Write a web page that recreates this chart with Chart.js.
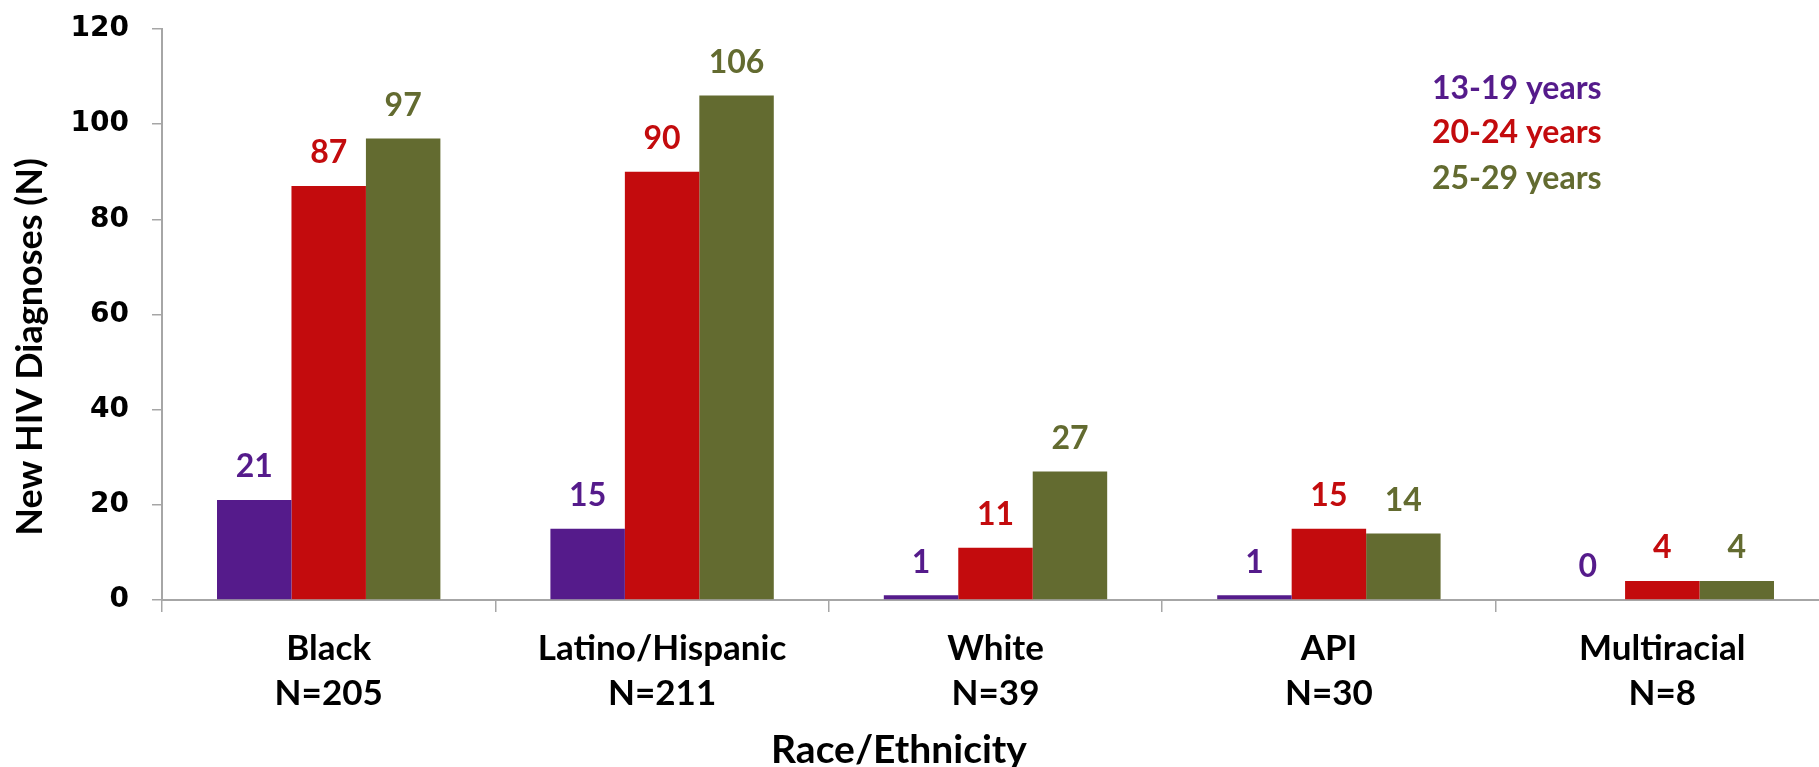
<!DOCTYPE html>
<html>
<head>
<meta charset="utf-8">
<script src="https://cdn.jsdelivr.net/npm/chart.js@4.4.1/dist/chart.umd.min.js"></script>
<style>
  html, body { margin: 0; padding: 0; background: #ffffff; overflow: hidden; }
  #wrap { width: 1830px; height: 767px; }
</style>
</head>
<body>
<div id="wrap"><canvas id="c" width="1830" height="767"></canvas></div>
<script>
const categories = [["Black", "N=205"], ["Latino/Hispanic", "N=211"], ["White", "N=39"], ["API", "N=30"], ["Multiracial", "N=8"]];
const seriesNames = ["13-19 years", "20-24 years", "25-29 years"];
const ages13to19 = [21, 15, 1, 1, 0];
const ages20to24 = [87, 90, 11, 15, 4];
const ages25to29 = [97, 106, 27, 14, 4];
const yTicks = [0, 20, 40, 60, 80, 100, 120];
const xTitle = "Race/Ethnicity";
const yTitle = "New HIV Diagnoses (N)";
const colors = ["#551B8B", "#C30B0D", "#636B30"];

const LABEL_FONT = "Lato";
const W = "bold";
const axisGray = "#A6A6A6";

const valueLabels = {
  id: "valueLabels",
  afterDatasetsDraw(chart) {
    const ctx = chart.ctx;
    ctx.save();
    ctx.font = W + " 32px " + LABEL_FONT;
    ctx.textAlign = "center";
    ctx.textBaseline = "middle";
    chart.data.datasets.forEach((ds, di) => {
      const meta = chart.getDatasetMeta(di);
      ctx.fillStyle = ds.backgroundColor;
      meta.data.forEach((bar, i) => {
        ctx.fillText(String(ds.data[i]), bar.x, bar.y - 33);
      });
    });
    ctx.restore();
  }
};

const textLegend = {
  id: "textLegend",
  afterDraw(chart) {
    const ctx = chart.ctx;
    ctx.save();
    ctx.font = W + " 32px " + LABEL_FONT;
    ctx.textAlign = "left";
    ctx.textBaseline = "middle";
    const ys = [89, 133, 179];
    chart.data.datasets.forEach((ds, di) => {
      ctx.fillStyle = ds.backgroundColor;
      ctx.fillText(ds.label, 1432, ys[di]);
    });
    ctx.restore();
  }
};

const axisTitles = {
  id: "axisTitles",
  afterDraw(chart) {
    const ctx = chart.ctx;
    ctx.save();
    ctx.fillStyle = "#000000";
    ctx.textAlign = "center";
    ctx.textBaseline = "middle";
    ctx.font = W + " 39px " + LABEL_FONT;
    ctx.fillText(xTitle, 899, 750);
    ctx.font = W + " 36px " + LABEL_FONT;
    ctx.translate(30, 347);
    ctx.rotate(-Math.PI / 2);
    ctx.fillText(yTitle, 0, 0);
    ctx.restore();
  }
};

new Chart(document.getElementById("c"), {
  type: "bar",
  data: {
    labels: categories,
    datasets: [
      { label: seriesNames[0], data: ages13to19, backgroundColor: colors[0] },
      { label: seriesNames[1], data: ages20to24, backgroundColor: colors[1] },
      { label: seriesNames[2], data: ages25to29, backgroundColor: colors[2] }
    ]
  },
  options: {
    responsive: false,
    animation: false,
    devicePixelRatio: 1,
    layout: { padding: { left: 0, right: 1, top: 29, bottom: 0 } },
    datasets: { bar: { categoryPercentage: 0.67, barPercentage: 1.0, borderWidth: 0 } },
    plugins: {
      legend: { display: false },
      tooltip: { enabled: false },
      title: { display: false }
    },
    scales: {
      x: {
        afterFit(scale) { scale.height = 167; scale.paddingLeft = 0; scale.paddingRight = 0; },
        grid: { offset: true, drawOnChartArea: false, drawTicks: true, tickLength: 12, color: axisGray, lineWidth: 1.5 },
        border: { display: true, color: axisGray, width: 2 },
        ticks: {
          color: "#000000",
          padding: 14,
          font: { family: LABEL_FONT, weight: W, size: 35, lineHeight: 1.29 },
          maxRotation: 0,
          autoSkip: false
        }
      },
      y: {
        min: 0,
        max: 120,
        afterFit(scale) { scale.width = 162; scale.paddingTop = 0; scale.paddingBottom = 0; },
        afterBuildTicks(scale) { scale.ticks = yTicks.map(v => ({ value: v })); },
        grid: { drawOnChartArea: false, drawTicks: true, tickLength: 10, color: axisGray, lineWidth: 1.5 },
        border: { display: true, color: axisGray, width: 2 },
        ticks: {
          color: "#000000",
          padding: 23,
          font: { family: "DejaVu Sans", weight: "bold", size: 28 }
        }
      }
    }
  },
  plugins: [valueLabels, textLegend, axisTitles]
});
</script>
</body>
</html>
